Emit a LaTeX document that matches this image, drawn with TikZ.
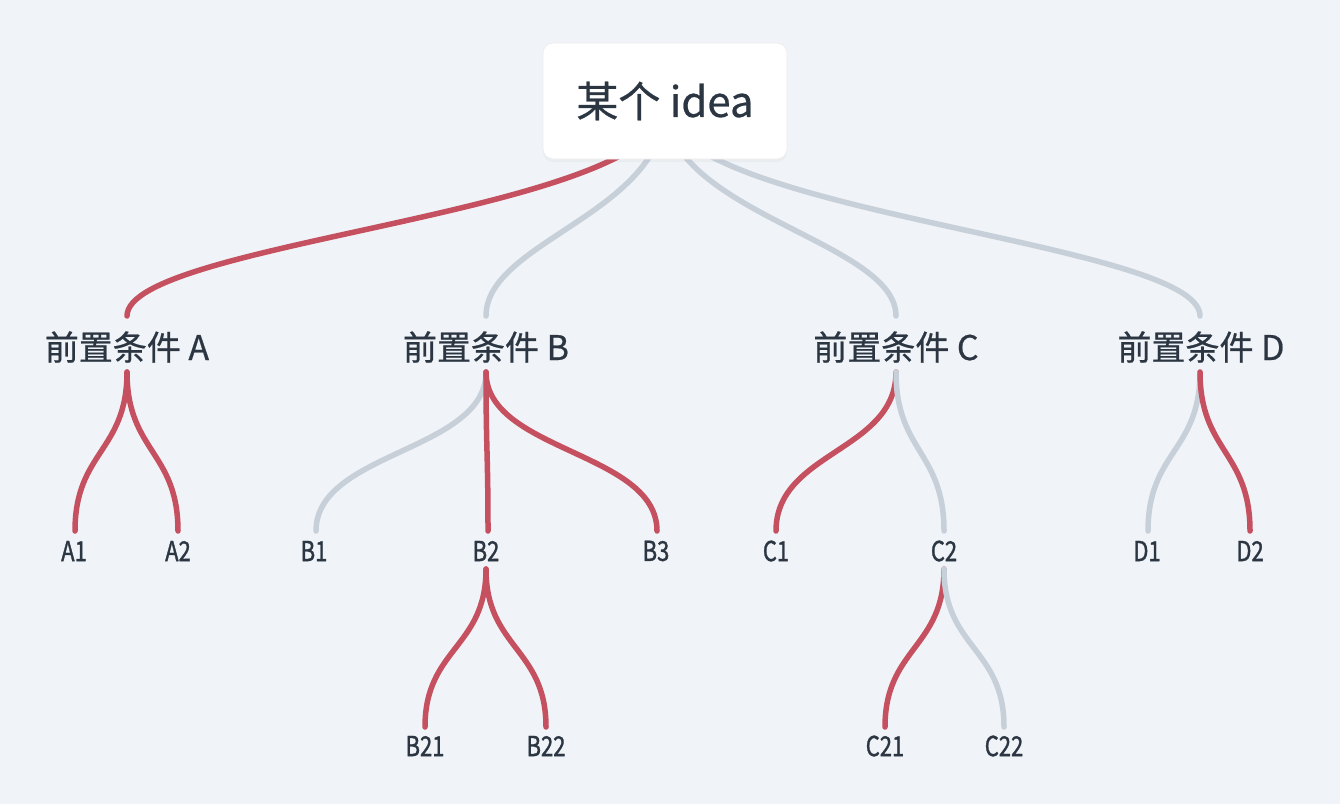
\documentclass[tikz,border=0pt]{standalone}
\usepackage{fontspec}
\setmainfont{Noto Sans CJK SC}[RawFeature={embolden=0.6}]
\newfontfamily\leaffont{Noto Sans CJK SC}[FakeStretch=0.8, RawFeature={embolden=1.2}]
\usetikzlibrary{calc,shadows}
\pgfdeclarelayer{background}
\pgfsetlayers{background,main}
\definecolor{bg}{RGB}{240,243,247}
\definecolor{hot}{RGB}{197,80,95}
\definecolor{cold}{RGB}{199,208,217}
\definecolor{ink}{RGB}{43,54,66}
\newcommand\vlink[3]{\path ($(#1)!0.5!(#2)$) coordinate (vmid);
  \draw[#3] (#1) .. controls (#1 |- vmid) and (#2 |- vmid) .. (#2);}
\newcommand\rootlink[2]{\draw[#2] (R-out) .. controls ($(R-out)+(0,108)$) and ($(#1)+(0,-75)$) .. (#1);}
\begin{document}
\begin{tikzpicture}[x=1pt,y=-1pt,
  link/.style={line width=5.5pt, line cap=round},
  hotlink/.style={link, draw=hot},
  coldlink/.style={link, draw=cold},
  rootbox/.style={fill=white, draw=black!7, line width=0.8pt, rounded corners=10pt,
    minimum width=244pt, minimum height=116pt, inner sep=0pt, text=ink,
    font=\fontsize{42}{42}\selectfont,
    drop shadow={opacity=0.05, shadow xshift=0pt, shadow yshift=-3pt}},
  lvlone/.style={text=ink, font=\fontsize{34}{34}\selectfont, inner sep=0pt},
  leaf/.style={text=ink, font=\leaffont\fontsize{27.5}{27.5}\selectfont, inner sep=0pt}]
\useasboundingbox (0,0) rectangle (1340,804);
% nodes
\node[rootbox] (R) at (665,101) {某个 idea};
\node[lvlone] (A) at (127,347) {前置条件 A};
\node[lvlone] (B) at (486,347) {前置条件 B};
\node[lvlone] (C) at (896,347) {前置条件 C};
\node[lvlone] (D) at (1201,347) {前置条件 D};
\node[leaf] (A1) at (74,551) {A1};
\node[leaf] (A2) at (178,551) {A2};
\node[leaf] (B1) at (314,551) {B1};
\node[leaf] (B2) at (486,551) {B2};
\node[leaf] (B3) at (656,551) {B3};
\node[leaf] (C1) at (776,551) {C1};
\node[leaf] (C2) at (944,551) {C2};
\node[leaf] (D1) at (1147,551) {D1};
\node[leaf] (D2) at (1250,551) {D2};
\node[leaf] (B21) at (425,746) {B21};
\node[leaf] (B22) at (546,746) {B22};
\node[leaf] (C21) at (885,746) {C21};
\node[leaf] (C22) at (1004,746) {C22};
% link end points
\coordinate (R-out) at (665,105);
\coordinate (A-in) at (127,316); \coordinate (A-out) at (127,372);
\coordinate (B-in) at (486,316); \coordinate (B-out) at (486,372);
\coordinate (C-in) at (896,316); \coordinate (C-out) at (896,372);
\coordinate (D-in) at (1200,316); \coordinate (D-out) at (1200,372);
\coordinate (A1-in) at (75,531); \coordinate (A2-in) at (178,531);
\coordinate (B1-in) at (316,531); \coordinate (B2-in) at (488,531); \coordinate (B3-in) at (657,531);
\coordinate (C1-in) at (776,531); \coordinate (C2-in) at (944,531);
\coordinate (D1-in) at (1148,531); \coordinate (D2-in) at (1250,531);
\coordinate (B2-out) at (486,569); \coordinate (C2-out) at (944,569);
\coordinate (B21-in) at (425,727); \coordinate (B22-in) at (546,727);
\coordinate (C21-in) at (885,727); \coordinate (C22-in) at (1004,727);
\begin{pgfonlayer}{background}
\fill[bg] (0,0) rectangle (1340,804);
\rootlink{A-in}{hotlink}
\rootlink{B-in}{coldlink}
\rootlink{C-in}{coldlink}
\rootlink{D-in}{coldlink}
\vlink{A-out}{A1-in}{hotlink}
\vlink{A-out}{A2-in}{hotlink}
\vlink{B-out}{B1-in}{coldlink}
\vlink{B-out}{B2-in}{hotlink}
\vlink{B-out}{B3-in}{hotlink}
\vlink{C-out}{C1-in}{hotlink}
\vlink{C-out}{C2-in}{coldlink}
\vlink{D-out}{D1-in}{coldlink}
\vlink{D-out}{D2-in}{hotlink}
\vlink{B2-out}{B21-in}{hotlink}
\vlink{B2-out}{B22-in}{hotlink}
\vlink{C2-out}{C21-in}{hotlink}
\vlink{C2-out}{C22-in}{coldlink}
\end{pgfonlayer}
\end{tikzpicture}
\end{document}
